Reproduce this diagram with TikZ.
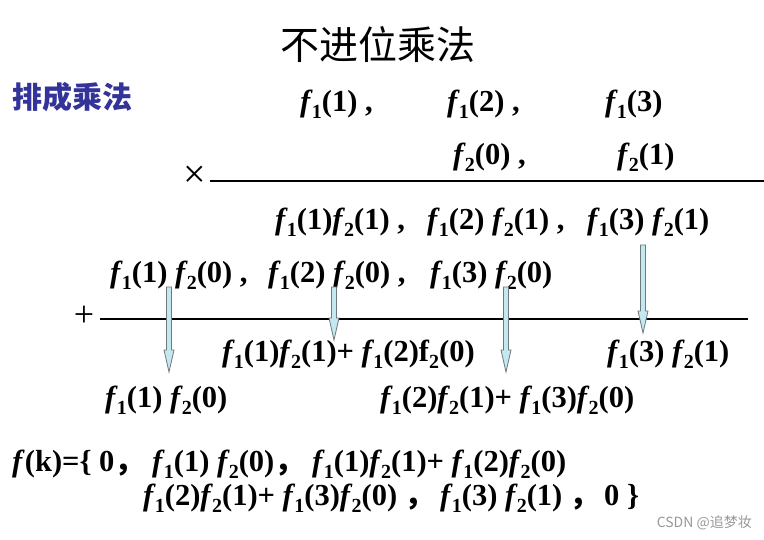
\documentclass[tikz,border=0pt]{standalone}
\usepackage{fontspec}
\setmainfont{Liberation Serif}
\newfontfamily\cjk{Noto Sans CJK SC}
\definecolor{labblue}{RGB}{51,51,153}
\definecolor{arrfill}{RGB}{196,232,240}
\definecolor{arrline}{RGB}{110,120,125}
\newcommand\fs[1]{\textit{f}\kern-1pt\raisebox{-7pt}{\fontsize{20}{20}\selectfont #1}}
\newcommand\fu[1]{f\raisebox{-7pt}{\fontsize{20}{20}\selectfont #1}}
\newcommand\cm{{\cjk ，}}
\newcommand\blkarrow[3]{%
  \draw[blkarr] (#1-2.5,#2) -- (#1+2.5,#2) -- (#1+2.5,#3-22) -- (#1+5,#3-22)
    -- (#1,#3) -- (#1-5,#3-22) -- (#1-2.5,#3-22) -- cycle;}
\begin{document}
\begin{tikzpicture}[x=1pt,y=-1pt,
  txt/.style={anchor=base west, inner sep=0pt, font=\fontsize{30.5}{36}\selectfont\bfseries},
  rule/.style={line width=2.6pt},
  blkarr/.style={fill=arrfill, draw=arrline, line width=0.8pt, line join=miter}]
\fill[white] (0,0) rectangle (764,540);
\useasboundingbox (0,0) rectangle (764,540);
% title and label
\node[font=\cjk\fontsize{39}{44}\selectfont, inner sep=0pt] (title) at (378,45) {不进位乘法};
\node[font=\cjk\fontsize{30}{36}\selectfont\bfseries, text=labblue, anchor=west, inner sep=0pt] (lab) at (12,97) {排成乘法};
% row 1
\node[txt] (r1a) at (300,112) {\fs{1}(1) ,};
\node[txt] (r1b) at (447,112) {\fs{1}(2) ,};
\node[txt] (r1c) at (605,112) {\fs{1}(3)};
% row 2
\node[txt] (r2a) at (453,165) {\fs{2}(0) ,};
\node[txt] (r2b) at (617,165) {\fs{2}(1)};
% times and rule
\node[font=\fontsize{40}{44}\selectfont, inner sep=0pt] (times) at (195,177) {×};
\coordinate (ra1) at (210,181);
\coordinate (ra2) at (764,181);
\draw[rule] (ra1) -- (ra2);
% row 3
\node[txt] (r3a) at (275,230) {\fs1(1)\fs2(1) ,};
\node[txt] (r3b) at (427,230) {\fs1(2) \fs2(1) ,};
\node[txt] (r3c) at (587,230) {\fs1(3) \fs2(1)};
% row 4
\node[txt] (r4a) at (110,283) {\fs1(1) \fs2(0) ,};
\node[txt] (r4b) at (268,283) {\fs1(2) \fs2(0) ,};
\node[txt] (r4c) at (430,283) {\fs1(3) \fs2(0)};
% plus and rule
\node[font=\fontsize{36}{40}\selectfont, inner sep=0pt] (plus) at (84,316) {+};
\coordinate (rb1) at (100,319);
\coordinate (rb2) at (748,319);
\draw[rule] (rb1) -- (rb2);
% row 5
\node[txt] (r5a) at (222,362) {\fs1(1)\fs2(1)+ \fs1(2)\fu2(0)};
\node[txt] (r5b) at (607,362) {\fs1(3) \fs2(1)};
% row 6
\node[txt] (r6a) at (105,407) {\fs1(1) \fs2(0)};
\node[txt] (r6b) at (380,407) {\fs1(2)\fs2(1)+ \fs1(3)\fs2(0)};
% arrows
\blkarrow{169}{287}{372}
\blkarrow{334}{287}{340}
\blkarrow{506}{287}{372}
\blkarrow{643}{245}{333}
% result
\node[txt] (r7a) at (12,471) {\textit{f}(k)=\{ 0\cm};
\node[txt] (r7b) at (152,471) {\fs1(1) \fs2(0)\cm};
\node[txt] (r7c) at (312,471) {\fs1(1)\fs2(1)+ \fs1(2)\fs2(0)};
\node[txt] (r8a) at (143,505) {\fs1(2)\fs2(1)+ \fs1(3)\fs2(0) \cm};
\node[txt] (r8b) at (440,505) {\fs1(3) \fs2(1) \cm};
\node[txt] (r8c) at (604,505) {0 \}};
% watermark
\node[font=\cjk\fontsize{14}{16}\selectfont, text=black!40, anchor=east, inner sep=0pt] (wm) at (752,523) {CSDN @追梦妆};
\end{tikzpicture}
\end{document}
